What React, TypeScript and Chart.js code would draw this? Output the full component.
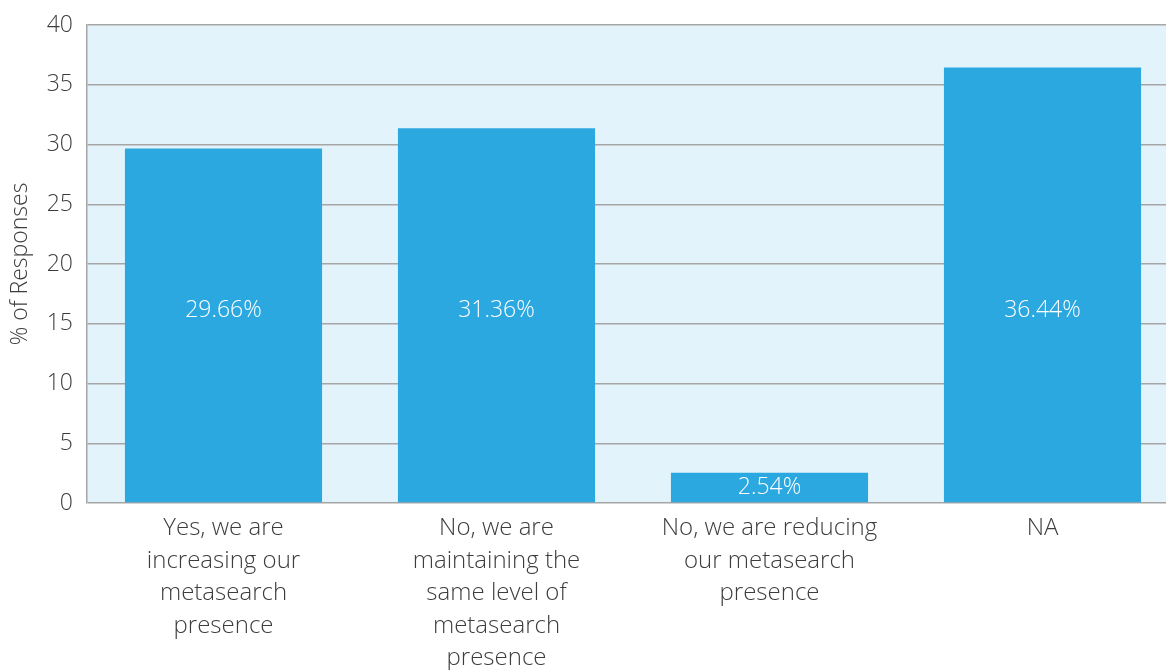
import React, { useEffect, useRef } from "react";
import { Chart, registerables } from "chart.js";

Chart.register(...registerables);

const categories: string[][] = [
  ["Yes, we are", "increasing our", "metasearch", "presence"],
  ["No, we are", "maintaining the", "same level of", "metasearch", "presence"],
  ["No, we are reducing", "our metasearch", "presence"],
  ["NA"],
];
const values: number[] = [29.66, 31.36, 2.54, 36.44];
const valueLabels: string[] = ["29.66%", "31.36%", "2.54%", "36.44%"];
const yTicks: number[] = [0, 5, 10, 15, 20, 25, 30, 35, 40];

const FONT = "'Open Sans', 'Noto Sans', sans-serif";
const TEXT = "#3d3d3d";

const bgPlugin = {
  id: "plotBg",
  beforeDraw(chart: any) {
    const { ctx, chartArea } = chart;
    ctx.save();
    ctx.fillStyle = "#e2f3fb";
    ctx.fillRect(chartArea.left, chartArea.top, chartArea.right - chartArea.left, chartArea.bottom - chartArea.top);
    ctx.restore();
  },
};

const labelPlugin = {
  id: "barLabels",
  afterDatasetsDraw(chart: any) {
    const { ctx } = chart;
    const meta = chart.getDatasetMeta(0);
    const yScale = chart.scales.y;
    ctx.save();
    ctx.fillStyle = "#ffffff";
    ctx.font = `300 23px ${FONT}`;
    ctx.textAlign = "center";
    ctx.textBaseline = "middle";
    meta.data.forEach((bar: any, i: number) => {
      const v = values[i];
      let y: number;
      if (v > 20) {
        y = yScale.getPixelForValue(16.15);
      } else {
        y = (bar.y + bar.base) / 2;
      }
      ctx.fillText(valueLabels[i], bar.x, y);
    });
    ctx.restore();
  },
};

export default function App() {
  const ref = useRef<HTMLCanvasElement | null>(null);
  useEffect(() => {
    if (!ref.current) return;
    const chart = new Chart(ref.current, {
      type: "bar",
      data: {
        labels: categories,
        datasets: [
          {
            data: values,
            backgroundColor: "#2ca8e1",
            borderWidth: 0,
            barPercentage: 0.722,
            categoryPercentage: 1,
          },
        ],
      },
      options: {
        animation: false,
        responsive: false,
        maintainAspectRatio: false,
        layout: { padding: { top: 0, right: 0, left: 0, bottom: 0 } },
        plugins: {
          legend: { display: false },
          tooltip: { enabled: false },
        },
        scales: {
          x: {
            grid: { display: false, drawTicks: false },
            border: { display: false },
            ticks: {
              color: TEXT,
              font: { family: FONT, size: 24, weight: 300, lineHeight: 1.355 },
              padding: 9,
              maxRotation: 0,
              autoSkip: false,
            },
            afterFit(scale: any) {
              scale.height = 167;
            },
          },
          y: {
            min: 0,
            max: 40,
            afterBuildTicks(scale: any) {
              scale.ticks = yTicks.map((v) => ({ value: v }));
            },
            afterFit(scale: any) {
              scale.width = 87;
              scale.paddingTop = 25;
            },
            grid: { color: "#a6a6a6", lineWidth: 1.5, drawTicks: false },
            border: { display: true, color: "#a6a6a6", width: 1.5 },
            ticks: {
              color: TEXT,
              font: { family: FONT, size: 23, weight: 300 },
              padding: 14,
            },
            title: {
              display: true,
              text: "% of Responses",
              color: TEXT,
              font: { family: FONT, size: 23, weight: 300 },
              padding: { top: 7, bottom: 0 },
            },
          },
        },
      },
      plugins: [bgPlugin, labelPlugin],
    });
    return () => chart.destroy();
  }, []);
  return (
    <div style={{ position: "fixed", left: 0, top: 0, width: 1166, height: 670, overflow: "hidden", background: "#fff" }}>
      <canvas ref={ref} width={1179} height={670} style={{ display: "block" }} />
    </div>
  );
}
